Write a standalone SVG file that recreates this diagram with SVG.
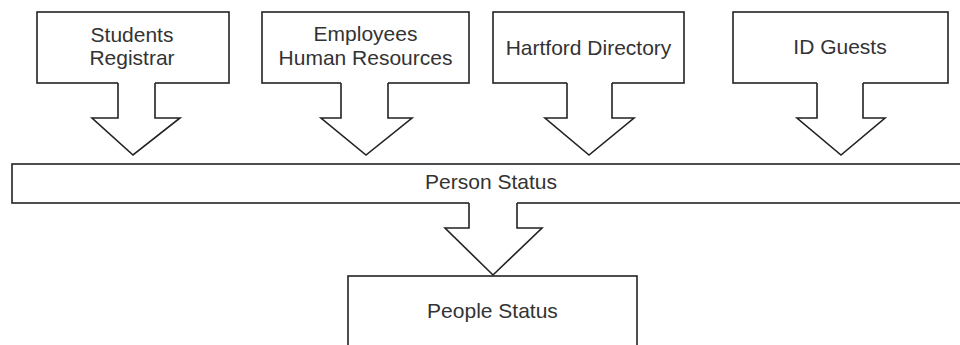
<svg xmlns="http://www.w3.org/2000/svg" width="960" height="345" viewBox="0 0 960 345">
<style>
.box{fill:#fff;stroke:#222;stroke-width:1.6}
.cover{fill:#fff;stroke:none}
.arr{fill:none;stroke:#222;stroke-width:1.6;stroke-linejoin:miter}
text{font-family:"Liberation Sans",Arial,sans-serif;font-size:21px;fill:#333;text-anchor:middle}
</style>
<rect width="960" height="345" fill="#fff"/>
<g id="students">
<rect class="box" x="37" y="12" width="192" height="71"/>
<text x="132" y="42">Students</text>
<text x="132" y="65">Registrar</text>
</g>
<g id="employees">
<rect class="box" x="262" y="12" width="207" height="71"/>
<text x="365.5" y="41">Employees</text>
<text x="365.5" y="65">Human Resources</text>
</g>
<g id="hartford">
<rect class="box" x="493" y="12" width="191" height="71"/>
<text x="588.5" y="55">Hartford Directory</text>
</g>
<g id="idguests">
<rect class="box" x="733" y="12" width="215" height="71"/>
<text x="840" y="54">ID Guests</text>
</g>
<g id="person-status">
<rect class="box" x="12" y="164" width="952" height="39"/>
<text x="491" y="189">Person Status</text>
</g>
<g id="people-status">
<rect class="box" x="348" y="276" width="289" height="80"/>
<text x="492.5" y="318">People Status</text>
</g>
<g id="connectors">
<path class="cover" d="M118,81 H155 V118 H180 L133,155 L92,118 H118 Z"/>
<path class="arr" d="M118,83 V118 H92 L133,155 L180,118 H155 V83"/>
<path class="cover" d="M341,81 H388 V118 H412 L366,155 L321,118 H341 Z"/>
<path class="arr" d="M341,83 V118 H321 L366,155 L412,118 H388 V83"/>
<path class="cover" d="M567,81 H612 V118 H634 L589,155 L545,118 H567 Z"/>
<path class="arr" d="M567,83 V118 H545 L589,155 L634,118 H612 V83"/>
<path class="cover" d="M817,81 H863 V118 H885 L841,155 L797,118 H817 Z"/>
<path class="arr" d="M817,83 V118 H797 L841,155 L885,118 H863 V83"/>
<path class="cover" d="M469,201 H517 V228 H542 L493,275 L445,228 H469 Z"/>
<path class="arr" d="M469,203 V228 H445 L493,275 L542,228 H517 V203"/>
</g>
</svg>
